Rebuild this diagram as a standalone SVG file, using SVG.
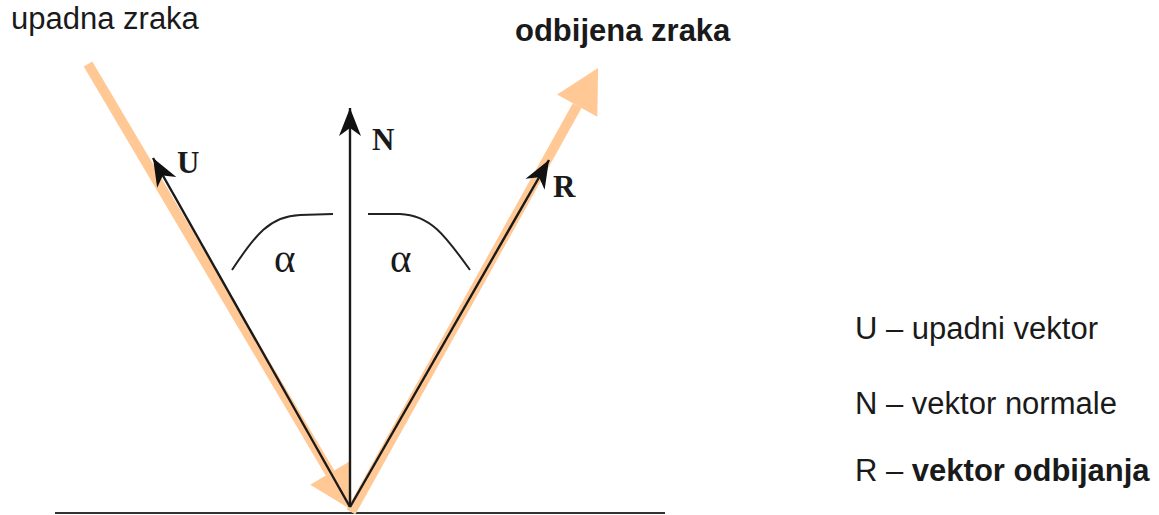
<svg xmlns="http://www.w3.org/2000/svg" width="1159" height="515" viewBox="0 0 1159 515">
<style>
.ray{stroke:#FFC895;stroke-width:10;fill:none;stroke-linecap:butt}
.vec{stroke:#1a1a1a;stroke-width:2.4;fill:none}
.arc{stroke:#222;stroke-width:2;fill:none}
.lbl{font-family:"Liberation Serif",serif;font-weight:bold;font-size:31px;fill:#1a1a1a}
.alpha{font-family:"Liberation Serif",serif;font-size:41px;fill:#1a1a1a}
.txt{font-family:"Liberation Sans",Arial,sans-serif;font-size:31px;fill:#1a1a1a}
.b{font-weight:bold}
</style>
<defs>
<marker id="oh" markerUnits="userSpaceOnUse" markerWidth="50" markerHeight="50" refX="0" refY="0" viewBox="-2 -25 48 50" orient="auto" overflow="visible">
<path d="M43,0 L0,-23 L0,23 Z" fill="#FFC895"/>
</marker>
<marker id="bh" markerUnits="userSpaceOnUse" markerWidth="30" markerHeight="30" refX="0" refY="0" viewBox="-28 -12 30 24" orient="auto" overflow="visible">
<path d="M0,0 L-28,-11 L-20,0 L-28,11 Z" fill="#111"/>
</marker>
</defs>
<g id="ground">
<line x1="55" y1="513" x2="665" y2="513" stroke="#333" stroke-width="2"/>
</g>
<g id="connectors">
<line id="incident-ray" class="ray" x1="88" y1="64" x2="330" y2="473" marker-end="url(#oh)"/>
<line id="reflected-ray" class="ray" x1="351" y1="512" x2="577.2" y2="105.6" marker-end="url(#oh)"/>
<line id="vec-U" class="vec" x1="350" y1="507" x2="153" y2="158" marker-end="url(#bh)"/>
<line id="vec-N" class="vec" x1="350" y1="507" x2="350" y2="108" stroke="#444" marker-end="url(#bh)"/>
<line id="vec-R" class="vec" x1="350" y1="507" x2="549" y2="160" marker-end="url(#bh)"/>
<path id="arc-left" class="arc" d="M232,270 C255,235 270,216 300,215 L333,214"/>
<path id="arc-right" class="arc" d="M368,214 L400,214 C430,215 445,235 470,270"/>
</g>
<g id="label-U"><text class="lbl" x="177" y="173">U</text></g>
<g id="label-N"><text class="lbl" x="372" y="150">N</text></g>
<g id="label-R"><text class="lbl" x="553" y="197">R</text></g>
<g id="alpha-left"><text class="alpha" x="274" y="272">α</text></g>
<g id="alpha-right"><text class="alpha" x="390" y="272">α</text></g>
<g id="title-incident"><text class="txt" x="11" y="29">upadna zraka</text></g>
<g id="title-reflected"><text class="txt b" x="515" y="41">odbijena zraka</text></g>
<g id="legend">
<text class="txt" x="855" y="339">U – upadni vektor</text>
<text class="txt" x="855" y="414">N – vektor normale</text>
<text class="txt" x="855" y="481">R – <tspan class="b">vektor odbijanja</tspan></text>
</g>
</svg>
